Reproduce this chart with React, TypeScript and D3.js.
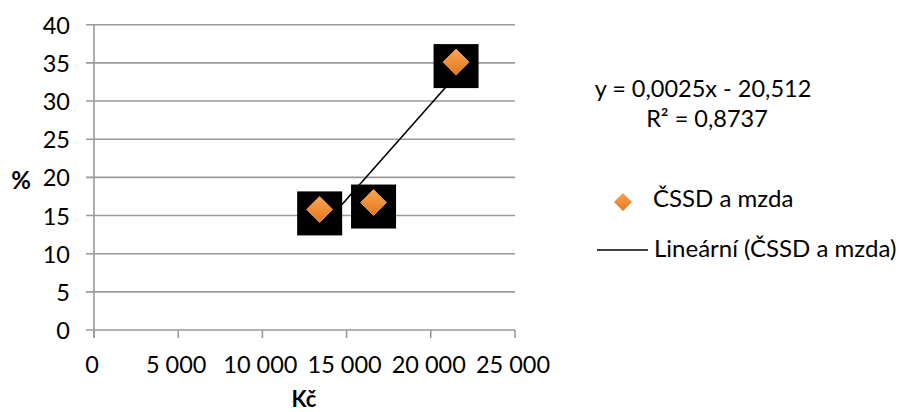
import React from "react";
import * as d3 from "d3";

const X_VALUES = [13400, 16600, 21500];
const Y_VALUES = [15.8, 16.7, 35.1];
const X_TICKS = [0, 5000, 10000, 15000, 20000, 25000];
const Y_TICKS = [0, 5, 10, 15, 20, 25, 30, 35, 40];
const SERIES_NAME = "ČSSD a mzda";
const TREND_NAME = "Lineární (ČSSD a mzda)";
const EQUATION = "y = 0,0025x - 20,512";
const R_SQUARED = "R² = 0,8737";
const X_TITLE = "Kč";
const Y_TITLE = "%";

const W = 901;
const H = 412;
const FONT = "Lato, 'Open Sans', sans-serif";
const GRID = "#9a9a9a";

const locale = d3.formatLocale({
  decimal: ",",
  thousands: " ",
  grouping: [3],
  currency: ["", ""],
});
const fmt = locale.format(",");

export default function App() {
  const x = d3.scaleLinear().domain([0, 25000]).range([94, 515]);
  const y = d3.scaleLinear().domain([0, 40]).range([330, 24.7]);

  const pts = X_VALUES.map((v, i) => ({ x: v, y: Y_VALUES[i] }));
  const mx = d3.mean(pts, (d) => d.x) as number;
  const my = d3.mean(pts, (d) => d.y) as number;
  const sxy = d3.sum(pts, (d) => (d.x - mx) * (d.y - my));
  const sxx = d3.sum(pts, (d) => (d.x - mx) ** 2);
  const slope = sxy / sxx;
  const icpt = my - slope * mx;
  const [x0, x1] = d3.extent(X_VALUES) as [number, number];
  const trend = d3
    .line<number>()
    .x((d) => x(d))
    .y((d) => y(slope * d + icpt))([x0, x1]);

  const diamond = (cx: number, cy: number, r: number) =>
    `M${cx},${cy - r}L${cx + r},${cy}L${cx},${cy + r}L${cx - r},${cy}Z`;

  return (
    <svg
      width={W}
      height={H}
      style={{ position: "absolute", left: 0, top: 0, background: "#fff" }}
      fontFamily={FONT}
    >
      <defs>
        <linearGradient id="dg" x1="0" y1="0" x2="0" y2="1">
          <stop offset="0" stopColor="#fba452" />
          <stop offset="1" stopColor="#e2781f" />
        </linearGradient>
      </defs>

      {/* gridlines + y ticks */}
      {Y_TICKS.map((t) => (
        <line
          key={"g" + t}
          x1={86}
          x2={x(25000)}
          y1={y(t)}
          y2={y(t)}
          stroke={GRID}
          strokeWidth={1.6}
        />
      ))}
      {/* y axis */}
      <line x1={x(0)} x2={x(0)} y1={y(40)} y2={338} stroke={GRID} strokeWidth={1.6} />
      {/* x ticks */}
      {X_TICKS.map((t) => (
        <line
          key={"xt" + t}
          x1={x(t)}
          x2={x(t)}
          y1={y(0)}
          y2={338}
          stroke={GRID}
          strokeWidth={1.6}
        />
      ))}

      {/* y tick labels */}
      {Y_TICKS.map((t) => (
        <text
          key={"yl" + t}
          x={70}
          y={y(t)}
          textAnchor="end"
          dominantBaseline="central"
          fontSize={23.5}
          fill="#000"
        >
          {t}
        </text>
      ))}
      {/* x tick labels */}
      {X_TICKS.map((t) => (
        <text
          key={"xl" + t}
          x={x(t) - 2}
          y={373}
          textAnchor="middle"
          fontSize={23.5}
          fill="#000"
        >
          {fmt(t)}
        </text>
      ))}

      {/* axis titles */}
      <text x={21} y={179} textAnchor="middle" dominantBaseline="central" fontSize={24} fontWeight="bold">
        {Y_TITLE}
      </text>
      <text x={304} y={407} textAnchor="middle" fontSize={22} fontWeight="bold">
        {X_TITLE}
      </text>

      {/* trendline */}
      <path d={trend ?? ""} stroke="#000" strokeWidth={1.6} fill="none" />

      {/* markers */}
      {pts.map((p, i) => (
        <rect
          key={"sq" + i}
          x={x(p.x) - 22.5}
          y={y(p.y) - 18}
          width={45}
          height={44}
          fill="#000"
        />
      ))}
      {pts.map((p, i) => (
        <path
          key={"dm" + i}
          d={diamond(x(p.x), y(p.y), 13)}
          fill="url(#dg)"
          stroke="#f5a35e"
          strokeWidth={0.8}
        />
      ))}

      {/* equation */}
      <text x={703} y={97} textAnchor="middle" fontSize={23.5}>
        {EQUATION}
      </text>
      <text x={707} y={127} textAnchor="middle" fontSize={23.5}>
        {R_SQUARED}
      </text>

      {/* legend */}
      <path d={diamond(623, 202, 9)} fill="url(#dg)" />
      <text x={653} y={207} fontSize={24}>
        {SERIES_NAME}
      </text>
      <line x1={597} x2={648} y1={250} y2={250} stroke="#000" strokeWidth={1.6} />
      <text x={654} y={257} fontSize={24}>
        {TREND_NAME}
      </text>
    </svg>
  );
}
